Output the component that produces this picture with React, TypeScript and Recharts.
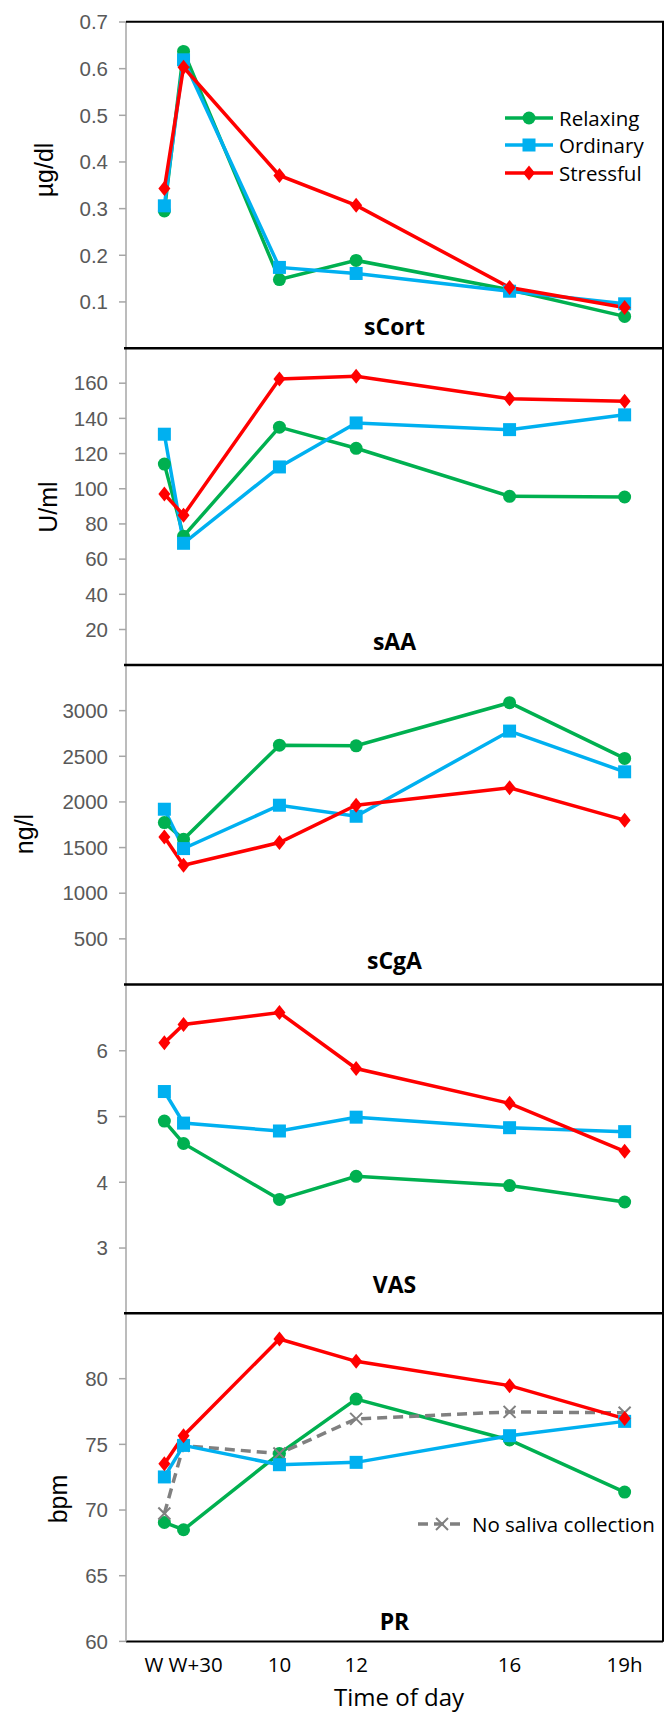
import { LineChart, Line, XAxis, YAxis, Legend } from "recharts";

// sampling times in hours (W = 7, W+30 = 7.5)
const hours = [7, 7.5, 10, 12, 16, 19];
const xTicks = [7.5, 10, 12, 16, 19];
const xTickLabels = ["W W+30", "10", "12", "16", "19h"];

const cortRelaxing = [0.295, 0.637, 0.148, 0.189, 0.126, 0.069];
const cortOrdinary = [0.306, 0.619, 0.174, 0.161, 0.123, 0.096];
const cortStressful = [0.343, 0.603, 0.371, 0.307, 0.131, 0.088];
const cortTicks = [0.1, 0.2, 0.3, 0.4, 0.5, 0.6, 0.7];

const aaRelaxing = [114, 73, 135, 123, 95.7, 95.3];
const aaOrdinary = [131, 69, 112.4, 137.4, 133.6, 142];
const aaStressful = [97, 85, 162.4, 163.9, 151.2, 149.7];
const aaTicks = [20, 40, 60, 80, 100, 120, 140, 160];

const cgaRelaxing = [1774, 1591, 2622, 2615, 3087, 2477];
const cgaOrdinary = [1920, 1489, 1964, 1843, 2776, 2330];
const cgaStressful = [1616, 1306, 1555, 1964, 2154, 1800];
const cgaTicks = [500, 1000, 1500, 2000, 2500, 3000];

const vasRelaxing = [4.93, 4.59, 3.74, 4.09, 3.95, 3.7];
const vasOrdinary = [5.38, 4.9, 4.78, 4.99, 4.83, 4.77];
const vasStressful = [6.12, 6.4, 6.58, 5.73, 5.2, 4.47];
const vasTicks = [3, 4, 5, 6];

const prRelaxing = [69.06, 68.5, 74.3, 78.45, 75.33, 71.37];
const prOrdinary = [72.52, 74.92, 73.45, 73.63, 75.66, 76.75];
const prStressful = [73.53, 75.66, 83.02, 81.32, 79.47, 76.96];
const prNoSaliva = [69.73, 74.9, 74.3, 76.94, 77.47, 77.4];
const prTicks = [60, 65, 70, 75, 80];

const SERIES = {
  relaxing: { name: "Relaxing", color: "#00B050", shape: "circle", dash: undefined },
  ordinary: { name: "Ordinary", color: "#00B0F0", shape: "square", dash: undefined },
  stressful: { name: "Stressful", color: "#FF0000", shape: "diamond", dash: undefined },
  noSaliva: { name: "No saliva collection", color: "#808080", shape: "x", dash: "10 6" },
};

const makeRows = (cols) =>
  hours.map((h, i) => {
    const row = { h };
    Object.keys(cols).forEach((k) => (row[k] = cols[k][i]));
    return row;
  });

const panels = [
  {
    title: "sCort", unit: "µg/dl", domain: [0, 0.7], ticks: cortTicks, fmt: (v) => v.toFixed(1),
    rows: makeRows({ relaxing: cortRelaxing, ordinary: cortOrdinary, stressful: cortStressful }),
    keys: ["relaxing", "ordinary", "stressful"], legend: ["relaxing", "ordinary", "stressful"],
    top: 21.7, bottom: 348.3, titleY: 335, unitX: 44, unitY: 170, legendPos: { left: 505, top: 97.5 },
  },
  {
    title: "sAA", unit: "U/ml", domain: [0, 180], ticks: aaTicks, fmt: (v) => String(v),
    rows: makeRows({ relaxing: aaRelaxing, ordinary: aaOrdinary, stressful: aaStressful }),
    keys: ["relaxing", "ordinary", "stressful"], legend: null,
    top: 348.3, bottom: 665, titleY: 649.5, unitX: 48, unitY: 507,
  },
  {
    title: "sCgA", unit: "ng/l", domain: [0, 3500], ticks: cgaTicks, fmt: (v) => String(v),
    rows: makeRows({ relaxing: cgaRelaxing, ordinary: cgaOrdinary, stressful: cgaStressful }),
    keys: ["relaxing", "ordinary", "stressful"], legend: null,
    top: 665, bottom: 984.5, titleY: 968.5, unitX: 24, unitY: 834,
  },
  {
    title: "VAS", unit: "", domain: [2, 7], ticks: vasTicks, fmt: (v) => String(v),
    rows: makeRows({ relaxing: vasRelaxing, ordinary: vasOrdinary, stressful: vasStressful }),
    keys: ["relaxing", "ordinary", "stressful"], legend: null,
    top: 984.5, bottom: 1313.3, titleY: 1293.3, unitX: 0, unitY: 0,
  },
  {
    title: "PR", unit: "bpm", domain: [60, 85], ticks: prTicks, fmt: (v) => String(v),
    rows: makeRows({ relaxing: prRelaxing, noSaliva: prNoSaliva, ordinary: prOrdinary, stressful: prStressful }),
    keys: ["relaxing", "noSaliva", "ordinary", "stressful"], legend: ["noSaliva"],
    top: 1313.3, bottom: 1641.7, titleY: 1630, unitX: 58, unitY: 1499, legendPos: { left: 418, top: 212 },
  },
];

const W = 671;
const PAD = 15;
const PLOT_LEFT = 126;
const PLOT_RIGHT = 663;
const X_AXIS_H = 74.3;
const SANS = "'Liberation Sans', Arial, sans-serif";
const CAL = "'Open Sans', 'Noto Sans', sans-serif";

function marker(shape, cx, cy, color) {
  if (shape === "circle") return <circle cx={cx} cy={cy} r={6.5} fill={color} />;
  if (shape === "square") return <rect x={cx - 6.5} y={cy - 6.5} width={13} height={13} fill={color} />;
  if (shape === "diamond")
    return <polygon points={`${cx},${cy - 7.5} ${cx + 6},${cy} ${cx},${cy + 7.5} ${cx - 6},${cy}`} fill={color} />;
  return (
    <g stroke={color} strokeWidth={2}>
      <line x1={cx - 6} y1={cy - 6} x2={cx + 6} y2={cy + 6} />
      <line x1={cx - 6} y1={cy + 6} x2={cx + 6} y2={cy - 6} />
    </g>
  );
}

function LegendRows({ keys }) {
  return (
    <div>
      {keys.map((k) => {
        const s = SERIES[k];
        return (
          <div key={k} style={{ display: "flex", alignItems: "center", height: 27.5 }}>
            <svg width={48} height={16}>
              <line x1={0} y1={8} x2={48} y2={8} stroke={s.color} strokeWidth={3.5} strokeDasharray={s.dash} />
              {marker(s.shape, 24, 8, s.color)}
            </svg>
            <span style={{ marginLeft: 6, fontFamily: CAL, fontSize: 20.5, color: "#000", whiteSpace: "nowrap" }}>
              {s.name}
            </span>
          </div>
        );
      })}
    </div>
  );
}

function Panel({ p, last }) {
  const plotH = p.bottom - p.top;
  const height = plotH + PAD + (last ? X_AXIS_H : PAD);
  return (
    <div style={{ position: "absolute", left: 0, top: p.top - PAD }}>
      <LineChart
        width={W}
        height={height}
        data={p.rows}
        margin={{ top: PAD, right: W - PLOT_RIGHT, bottom: last ? 0 : PAD, left: 0 }}
      >
        <XAxis
          dataKey="h"
          type="number"
          domain={[6, 20]}
          ticks={xTicks}
          interval={0}
          hide={!last}
          height={X_AXIS_H}
          tickFormatter={(v) => xTickLabels[xTicks.indexOf(v)]}
          tickLine={false}
          tickSize={0}
          tickMargin={16}
          axisLine={{ stroke: "#000", strokeWidth: 2 }}
          tick={{ fill: "#000", fontSize: 20.5, fontFamily: CAL }}
        />
        <YAxis
          type="number"
          domain={p.domain}
          ticks={p.ticks}
          interval={0}
          width={PLOT_LEFT}
          tickFormatter={p.fmt}
          axisLine={{ stroke: "#A6A6A6", strokeWidth: 1.5 }}
          tickLine={{ stroke: "#A6A6A6", strokeWidth: 1.5 }}
          tickSize={7}
          tickMargin={11}
          tick={{ fill: "#595959", fontSize: 20.5, fontFamily: SANS }}
        />
        {p.legend && (
          <Legend
            layout="vertical"
            align="center"
            verticalAlign="middle"
            wrapperStyle={{ left: p.legendPos.left, top: p.legendPos.top, width: 260 }}
            content={() => <LegendRows keys={p.legend} />}
          />
        )}
        {p.keys.map((k) => {
          const s = SERIES[k];
          return (
            <Line
              key={k}
              dataKey={k}
              name={s.name}
              stroke={s.color}
              strokeWidth={3.5}
              strokeDasharray={s.dash}
              isAnimationActive={false}
              activeDot={false}
              dot={(d) => <g key={`${k}-${d.index}`}>{marker(s.shape, d.cx, d.cy, s.color)}</g>}
            />
          );
        })}
      </LineChart>
    </div>
  );
}

export default function App() {
  return (
    <div style={{ position: "absolute", left: 0, top: 0, width: W, height: 1716, background: "#fff" }}>
      {panels.map((p, i) => (
        <Panel key={p.title} p={p} last={i === panels.length - 1} />
      ))}
      <svg width={W} height={1716} style={{ position: "absolute", left: 0, top: 0, pointerEvents: "none" }}>
        <path
          d={`M${PLOT_LEFT} ${panels[0].top} H${PLOT_RIGHT} V${panels[4].bottom}`}
          fill="none"
          stroke="#000"
          strokeWidth={2}
        />
        {panels.slice(0, 4).map((p) => (
          <line key={p.title} x1={PLOT_LEFT - 2} x2={PLOT_RIGHT} y1={p.bottom} y2={p.bottom} stroke="#000" strokeWidth={2.5} />
        ))}
        {panels.map((p) => (
          <text
            key={p.title}
            x={(PLOT_LEFT + PLOT_RIGHT) / 2}
            y={p.titleY}
            textAnchor="middle"
            fontFamily={CAL}
            fontWeight="bold"
            fontSize={23}
            fill="#000"
          >
            {p.title}
          </text>
        ))}
        {panels
          .filter((p) => p.unit)
          .map((p) => (
            <text
              key={p.unit}
              x={p.unitX}
              y={p.unitY}
              transform={`rotate(-90, ${p.unitX}, ${p.unitY})`}
              textAnchor="middle"
              dominantBaseline="central"
              fontFamily={SANS}
              fontSize={25}
              fill="#000"
            >
              {p.unit}
            </text>
          ))}
        <text x={399} y={1706} textAnchor="middle" fontFamily={CAL} fontSize={24} fill="#000">
          Time of day
        </text>
      </svg>
    </div>
  );
}
